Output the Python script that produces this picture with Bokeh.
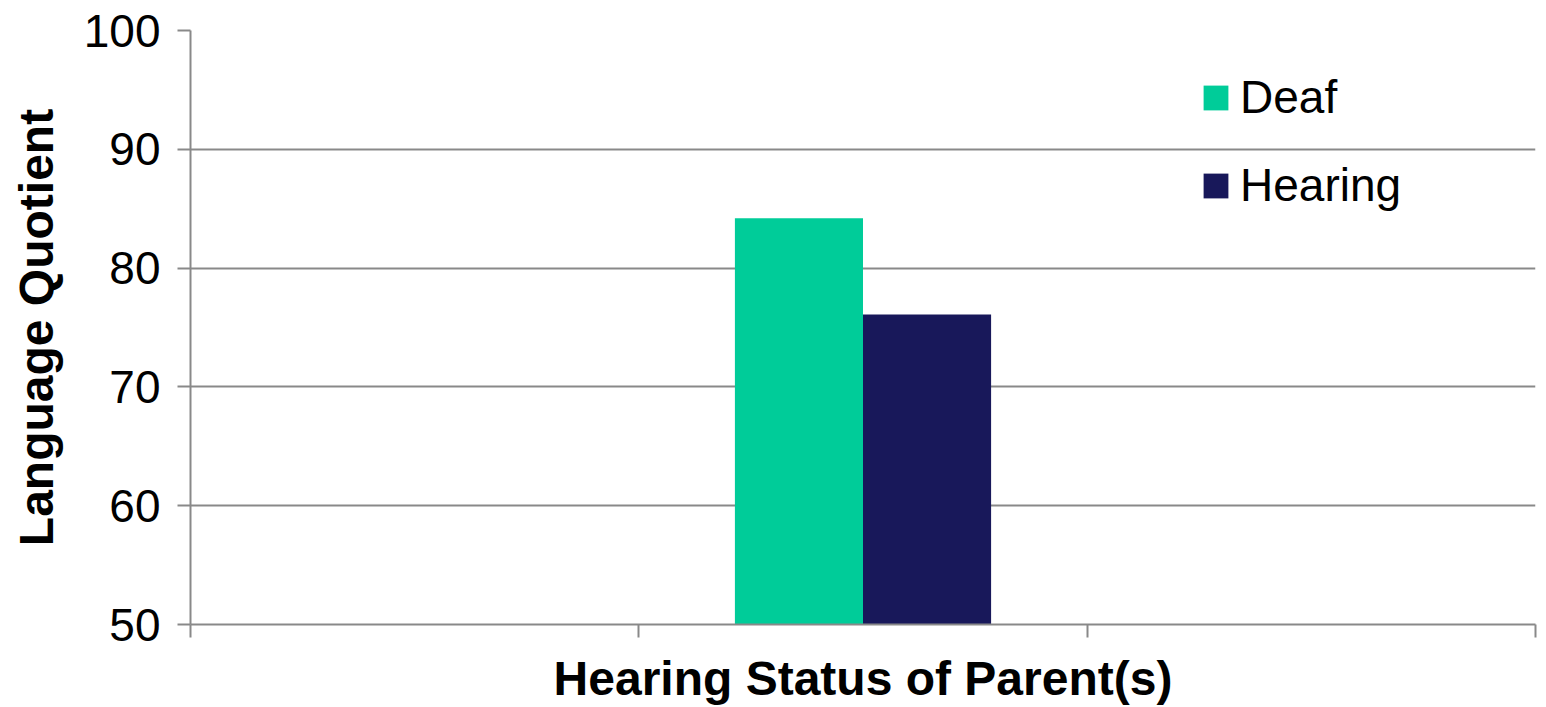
from bokeh.plotting import figure
from bokeh.models import Range1d, FixedTicker, Legend, LegendItem, ColumnDataSource
from bokeh.embed import file_html
from bokeh.resources import INLINE

# ---- data ----
series = ["Deaf", "Hearing"]
values = [84.2, 76.1]
slot_count = 3          # category slots on the x axis
group_slot = 1          # the bars sit in the middle slot
y_ticks = [50, 60, 70, 80, 90, 100]
x_title = "Hearing Status of Parent(s)"
y_title = "Language Quotient"

# ---- style ----
colors = ["#00CC99", "#18185A"]
FONT = "Liberation Sans"
GRID = "#898989"
gap_width = 1.5

bar_w = 1.0 / (len(series) + gap_width)
xs = [group_slot + 0.5 + (i - (len(series) - 1) / 2) * bar_w for i in range(len(series))]

p = figure(width=1546, height=707, output_backend="svg", toolbar_location=None,
           x_range=Range1d(0, slot_count), y_range=Range1d(50, 100),
           min_border_left=190, min_border_right=11, min_border_top=30,
           min_border_bottom=82)
p.outline_line_color = None
p.background_fill_color = "white"
p.border_fill_color = "white"

renderers = []
for i, s in enumerate(series):
    r = p.vbar(x=[xs[i]], top=[values[i]], bottom=50, width=bar_w,
               fill_color=colors[i], line_color=None)
    renderers.append(r)

# y axis
p.yaxis.ticker = FixedTicker(ticks=y_ticks)
p.yaxis.axis_line_color = GRID
p.yaxis.axis_line_width = 2
p.yaxis.major_tick_line_color = GRID
p.yaxis.major_tick_line_width = 2
p.yaxis.major_tick_out = 13
p.yaxis.major_tick_in = 0
p.yaxis.minor_tick_line_color = None
p.yaxis.major_label_text_font = FONT
p.yaxis.major_label_text_font_size = "46px"
p.yaxis.major_label_text_color = "black"
p.yaxis.major_label_standoff = 17
p.yaxis.axis_label = y_title
p.yaxis.axis_label_text_font = FONT
p.yaxis.axis_label_text_font_size = "48px"
p.yaxis.axis_label_text_font_style = "bold"
p.yaxis.axis_label_text_color = "black"
p.yaxis.axis_label_standoff = 18

# x axis
p.xaxis.ticker = FixedTicker(ticks=list(range(slot_count + 1)))
p.xaxis.major_label_overrides = {i: "" for i in range(slot_count + 1)}
p.xaxis.major_label_text_font_size = "0px"
p.xaxis.major_label_standoff = 0
p.xaxis.axis_line_color = GRID
p.xaxis.axis_line_width = 2
p.xaxis.major_tick_line_color = GRID
p.xaxis.major_tick_line_width = 2
p.xaxis.major_tick_out = 13
p.xaxis.major_tick_in = 0
p.xaxis.minor_tick_line_color = None
p.xaxis.axis_label = x_title
p.xaxis.axis_label_text_font = FONT
p.xaxis.axis_label_text_font_size = "48px"
p.xaxis.axis_label_text_font_style = "bold"
p.xaxis.axis_label_text_color = "black"
p.xaxis.axis_label_standoff = 14

p.xgrid.grid_line_color = None
p.ygrid.ticker = FixedTicker(ticks=y_ticks[1:])
p.ygrid.grid_line_color = GRID
p.ygrid.grid_line_width = 2

legend = Legend(items=[LegendItem(label=s, renderers=[renderers[i]]) for i, s in enumerate(series)],
                location=(1010, 412))
legend.label_text_font = FONT
legend.label_text_font_size = "46px"
legend.label_text_color = "black"
legend.glyph_width = 31
legend.glyph_height = 31
legend.label_standoff = 9
legend.spacing = 34
legend.padding = 0
legend.margin = 0
legend.border_line_color = None
legend.background_fill_alpha = 0
p.add_layout(legend, "center")

open("out.html", "w").write(file_html(p, INLINE))
